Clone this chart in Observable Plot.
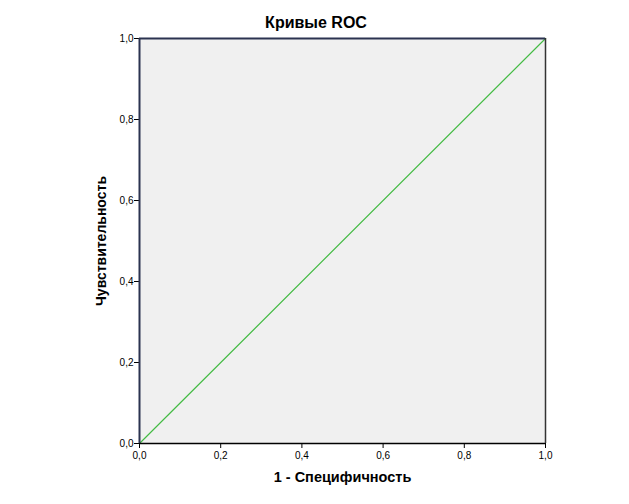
<!DOCTYPE html>
<html>
<head>
<meta charset="utf-8">
<script src="https://cdn.jsdelivr.net/npm/d3@7"></script>
<script src="https://cdn.jsdelivr.net/npm/@observablehq/plot@0.6"></script>
<style>
  body { margin: 0; background: #fff; font-family: "Liberation Sans", Arial, sans-serif; }
  #wrap { position: relative; width: 629px; height: 504px; }
  #title { position: absolute; top: 14px; left: 0; width: 632px; text-align: center; font-size: 16px; font-weight: bold; color: #000; }
</style>
</head>
<body>
<div id="wrap">
  <div id="title">Кривые ROC</div>
  <div id="chart"></div>
</div>
<script>
const titleText = "Кривые ROC";
const xLabel = "1 - Специфичность";
const yLabel = "Чувствительность";
const tickValues = [0, 0.2, 0.4, 0.6, 0.8, 1.0];
const rocFpr = [0, 1];
const rocTpr = [0, 1];

const roc = rocFpr.map((x, i) => ({x, y: rocTpr[i]}));
const fmt = d => d.toFixed(1).replace(".", ",");

const chart = Plot.plot({
  width: 629,
  height: 504,
  marginLeft: 139,
  marginRight: 84,
  marginTop: 38,
  marginBottom: 61,
  style: { fontFamily: "'Liberation Sans', Arial, sans-serif", fontSize: "10px", background: "transparent", color: "#000" },
  x: { domain: [0, 1], ticks: tickValues, tickFormat: fmt, tickSize: 5, tickPadding: 3, label: null },
  y: { domain: [0, 1], ticks: tickValues, tickFormat: fmt, tickSize: 5, tickPadding: 1, label: null },
  marks: [
    Plot.frame({ fill: "#f0f0f0", stroke: null }),
    Plot.axisX({ ticks: tickValues, tickFormat: fmt, tickSize: 5, tickPadding: 3, stroke: "#000", strokeOpacity: 1, label: null }),
    Plot.axisY({ ticks: tickValues, tickFormat: fmt, tickSize: 5, tickPadding: 1, stroke: "#000", strokeOpacity: 1, label: null }),
    Plot.line(roc, { x: "x", y: "y", stroke: "#44bb44", strokeWidth: 1.2 }),
    Plot.ruleY([0], { stroke: "#000", strokeWidth: 1.5 }),
    Plot.ruleX([1], { stroke: "#333", strokeWidth: 1.5 }),
    Plot.ruleY([1], { stroke: "#2b3350", strokeWidth: 2 }),
    Plot.ruleX([0], { stroke: "#2b3350", strokeWidth: 2 }),
    Plot.text([xLabel], { frameAnchor: "bottom", dy: 38, text: d => d, fontSize: 14.5, fontWeight: "bold", fill: "#000" }),
    Plot.text([yLabel], { frameAnchor: "left", textAnchor: "middle", dx: -38, rotate: -90, text: d => d, fontSize: 14, fontWeight: "bold", fill: "#000" })
  ]
});
document.getElementById("chart").appendChild(chart);
</script>
</body>
</html>
